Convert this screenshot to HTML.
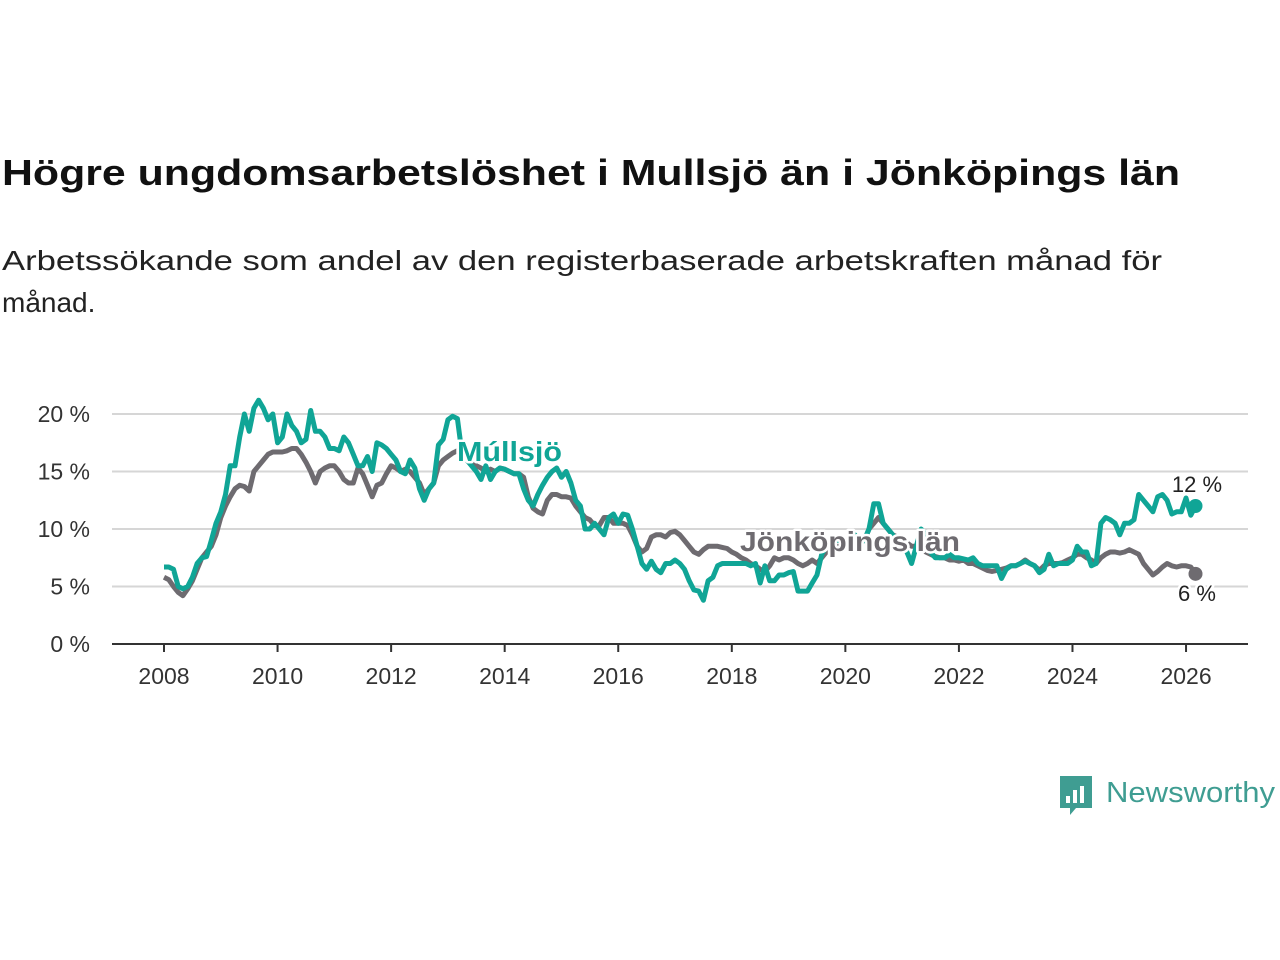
<!DOCTYPE html>
<html><head><meta charset="utf-8"><style>
html,body{margin:0;padding:0;background:#fff;}
svg{display:block;font-family:"Liberation Sans","DejaVu Sans",sans-serif;}
</style></head><body>
<svg id="chart" width="1280" height="960" viewBox="0 0 1280 960" xmlns="http://www.w3.org/2000/svg">
<text x="2" y="185" font-size="36" font-weight="bold" fill="#111" textLength="1178" lengthAdjust="spacingAndGlyphs">Högre ungdomsarbetslöshet i Mullsjö än i Jönköpings län</text>
<text x="2" y="270" font-size="28" fill="#222" textLength="1160" lengthAdjust="spacingAndGlyphs">Arbetssökande som andel av den registerbaserade arbetskraften månad för</text>
<text x="2" y="312" font-size="28" fill="#222">månad.</text>
<g id="grid"></g><g id="axes"></g><g id="lines"></g><g id="labels"></g>
<g>
<path d="M1060 776 h32 v32 h-16 l-6 7 v-7 h-10 z" fill="#3f9d92"/>
<rect x="1066" y="796" width="4" height="7" fill="#fff"/><rect x="1073" y="790" width="4" height="13" fill="#fff"/><rect x="1080" y="786" width="4" height="17" fill="#fff"/>
<text x="1106" y="802" font-size="29" fill="#3f9d92" textLength="169" lengthAdjust="spacingAndGlyphs">Newsworthy</text>
</g>
</svg>
<script>
const yTicks=[0,5,10,15,20];
const yearTicks=[2008,2010,2012,2014,2016,2018,2020,2022,2024,2026];
const mullsjo=[6.7,6.7,6.5,5.0,4.8,5.0,5.8,7.0,7.5,7.6,9.0,10.5,
11.5,13.0,15.5,15.5,18.0,20.0,18.5,20.5,21.2,20.5,19.5,20.0,
17.5,18.0,20.0,19.0,18.5,17.5,17.8,20.3,18.5,18.5,18.0,17.0,
17.0,16.8,18.0,17.5,16.5,15.5,15.5,16.3,15.0,17.5,17.3,17.0,
16.5,16.0,15.0,14.8,16.0,15.3,13.5,12.5,13.5,14.0,17.3,17.8,
19.5,19.8,19.6,16.5,16.0,15.5,15.0,14.3,15.5,14.3,15.0,15.3,
15.2,15.0,14.8,14.8,13.5,12.5,12.0,13.0,13.8,14.5,15.0,15.3,
14.5,15.0,14.0,12.5,12.0,10.0,10.0,10.5,10.0,9.5,11.0,11.3,
10.5,11.3,11.2,10.0,8.5,7.0,6.5,7.2,6.5,6.2,7.0,7.0,
7.3,7.0,6.5,5.5,4.7,4.6,3.8,5.5,5.8,6.8,7.0,7.0,
7.0,7.0,7.0,7.0,6.8,7.0,5.3,6.8,5.5,5.5,6.0,6.0,
6.2,6.3,4.6,4.6,4.6,5.3,6.0,7.8,8.5,9.0,9.0,9.0,
9.0,8.5,9.5,8.8,9.0,10.0,12.2,12.2,10.5,10.0,9.5,9.0,
8.5,8.0,7.0,8.5,10.0,9.5,8.0,7.5,7.5,7.5,7.8,7.5,
7.5,7.4,7.3,7.5,7.0,6.8,6.8,6.8,6.8,5.7,6.5,6.8,
6.8,7.0,7.2,7.0,6.8,6.2,6.5,7.8,6.8,7.0,7.0,7.0,
7.3,8.5,8.0,8.0,6.8,7.0,10.5,11.0,10.8,10.5,9.5,10.5,
10.5,10.8,13.0,12.5,12.0,11.5,12.8,13.0,12.5,11.3,11.5,11.5,
12.7,11.2,12.0];
const jonkoping=[5.8,5.6,5.0,4.5,4.2,4.8,5.5,6.5,7.5,8.0,8.5,9.5,
11.0,12.0,12.8,13.5,13.8,13.7,13.3,15.0,15.5,16.0,16.5,16.7,
16.7,16.7,16.8,17.0,17.0,16.5,15.8,15.0,14.0,15.0,15.3,15.5,
15.5,15.0,14.3,14.0,14.0,15.3,14.8,13.8,12.8,13.8,14.0,14.8,
15.5,15.3,15.0,15.2,15.0,14.5,14.0,13.0,13.5,14.0,15.5,16.0,
16.3,16.6,16.8,17.0,16.5,16.0,15.5,15.3,15.0,15.2,15.0,15.3,
15.2,15.0,14.8,14.8,14.5,12.8,11.8,11.5,11.3,12.5,13.0,13.0,
12.8,12.8,12.7,12.0,11.5,11.0,10.8,10.3,10.3,11.0,11.0,10.5,
10.5,10.5,10.3,9.5,8.5,8.0,8.3,9.3,9.5,9.5,9.3,9.7,
9.8,9.5,9.0,8.5,8.0,7.8,8.2,8.5,8.5,8.5,8.4,8.3,
8.0,7.8,7.5,7.3,7.0,6.8,6.5,6.3,6.8,7.5,7.3,7.5,
7.5,7.3,7.0,6.8,7.0,7.3,7.0,7.5,8.0,8.5,8.5,8.5,
8.5,8.6,8.7,8.8,9.0,10.0,10.5,11.0,10.5,10.0,9.5,9.3,
9.0,8.8,8.5,8.5,8.3,8.0,7.8,7.6,7.5,7.5,7.3,7.3,
7.2,7.3,7.0,7.0,6.8,6.6,6.4,6.3,6.4,6.5,6.6,6.8,
6.8,7.0,7.3,7.0,6.8,6.4,6.8,7.0,7.0,7.0,7.1,7.3,
7.5,7.8,7.8,7.5,7.3,7.0,7.5,7.8,8.0,8.0,7.9,8.0,
8.2,8.0,7.8,7.0,6.5,6.0,6.3,6.7,7.0,6.8,6.7,6.8,
6.8,6.7,6.1];
const NS="http://www.w3.org/2000/svg";
const x0=164,xPerYear=56.78,yBase=644,yPer=11.5;
function X(m){return x0+m*xPerYear/12;}
function XY(yr){return x0+(yr-2008)*xPerYear;}
function Y(v){return yBase-v*yPer;}
function mk(tag,attrs,parent){const e=document.createElementNS(NS,tag);for(const k in attrs)e.setAttribute(k,attrs[k]);parent.appendChild(e);return e;}
const grid=document.getElementById('grid'),axes=document.getElementById('axes'),lines=document.getElementById('lines'),labels=document.getElementById('labels');
yTicks.forEach(v=>{
 if(v>0){const g=mk('line',{x1:112,x2:1248,y1:Y(v),y2:Y(v),stroke:'#d6d6d6','stroke-width':2},grid);
 
 }
 const t=mk('text',{x:90,y:Y(v)+8,'text-anchor':'end','font-size':23,fill:'#333'},axes);t.textContent=v+' %';
 
 
});
const base=mk('line',{x1:112,x2:1248,y1:yBase,y2:yBase,stroke:'#333','stroke-width':2},axes);


yearTicks.forEach(yr=>{
 const x=XY(yr);
 mk('line',{x1:x,x2:x,y1:yBase,y2:yBase+8,stroke:'#333','stroke-width':2},axes);
 const t=mk('text',{x:x,y:684,'text-anchor':'middle','font-size':23,fill:'#333'},axes);t.textContent=yr;
 
 
});
function path(arr){return arr.map((v,i)=>(i?'L':'M')+X(i).toFixed(1)+' '+Y(v).toFixed(1)).join(' ');}
const pj=mk('path',{d:path(jonkoping),fill:'none',stroke:'#6e6b70','stroke-width':5,'stroke-linejoin':'round'},lines);


const pm=mk('path',{d:path(mullsjo),fill:'none',stroke:'#10a596','stroke-width':5,'stroke-linejoin':'round'},lines);


const lm=mullsjo.length-1,lj=jonkoping.length-1;
const dm=mk('circle',{cx:X(lm),cy:Y(mullsjo[lm]),r:7,fill:'#10a596'},lines);


const dj=mk('circle',{cx:X(lj),cy:Y(jonkoping[lj]),r:7,fill:'#6e6b70'},lines);


function lab(txt,x,y,fill,size,weight,anchor,name,len){
 const t=mk('text',{x:x,y:y,fill:fill,'font-size':size,'font-weight':weight,'text-anchor':anchor||'start',stroke:'#fff','stroke-width':5,'paint-order':'stroke','stroke-linejoin':'round'},labels);
 if(len){t.setAttribute('textLength',len);t.setAttribute('lengthAdjust','spacingAndGlyphs');}
 t.textContent=txt;
 
 
}
lab('Múllsjö',457,461,'#10a596',28,'bold','start','mullsjo-series-label',105);
lab('Jönköpings län',740,551,'#6e6b70',28,'bold','start','jonkoping-series-label',220);
lab('12 %',1197,492,'#222',22,'normal','middle','mullsjo-end-value');
lab('6 %',1197,601,'#222',22,'normal','middle','jonkoping-end-value');
</script>
</body></html>
